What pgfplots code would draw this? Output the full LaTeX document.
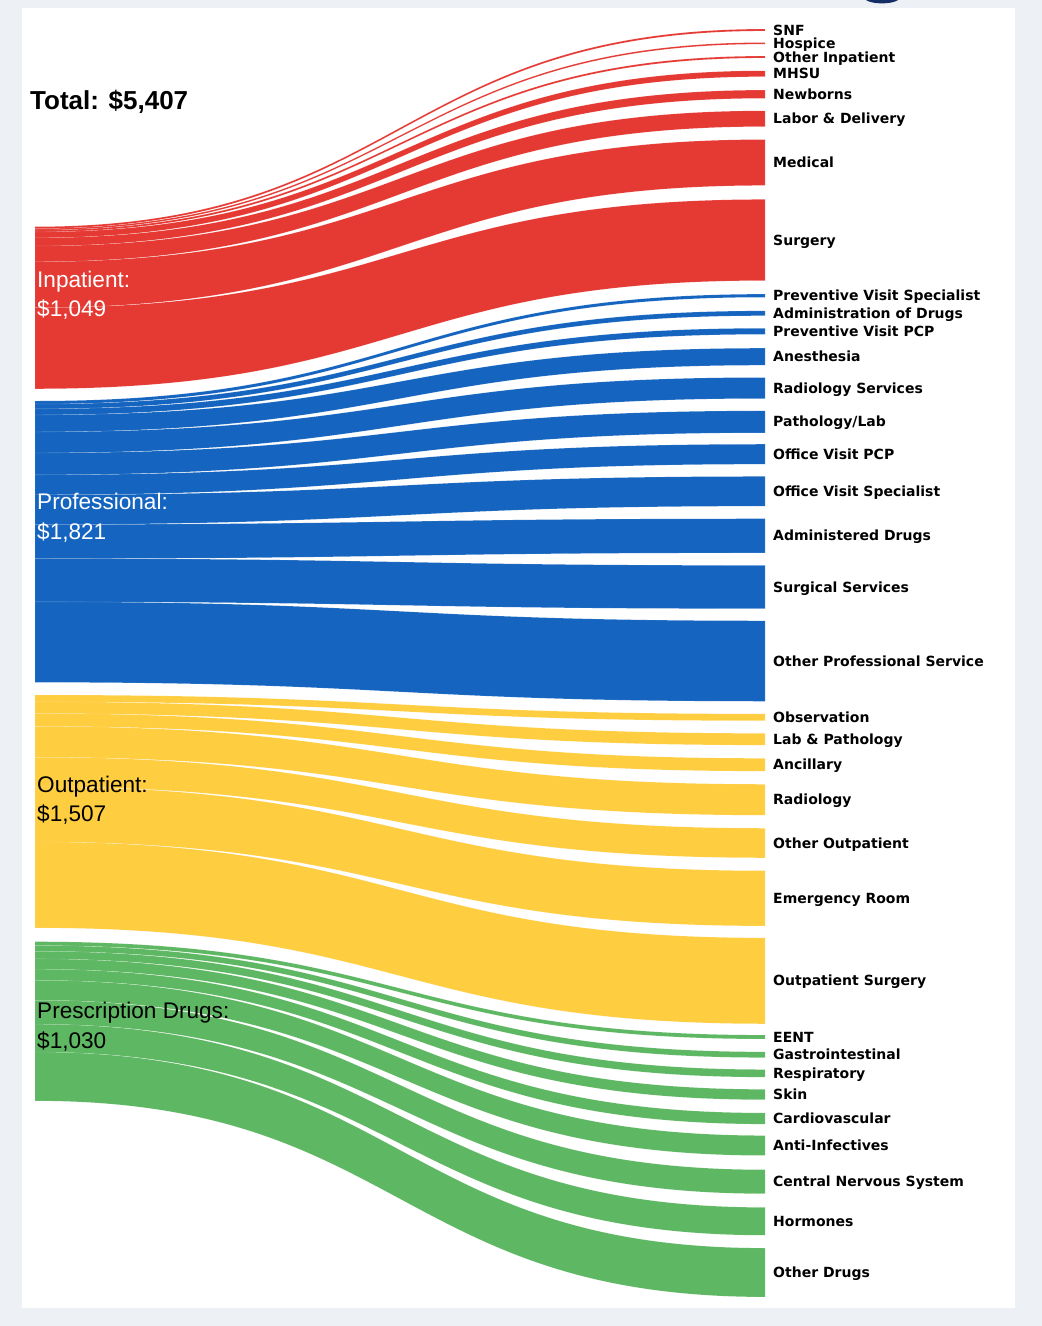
\documentclass[border=0pt]{standalone}
\usepackage{pgfplots}
\usepackage{pgfplotstable}
\pgfplotsset{compat=1.18}
\usepackage{fontspec}
\setmainfont{Liberation Sans}
\newfontfamily\djv{DejaVu Sans}
\definecolor{cRed}{RGB}{229,58,52}
\definecolor{cBlue}{RGB}{21,101,192}
\definecolor{cYellow}{RGB}{255,205,64}
\definecolor{cGreen}{RGB}{94,183,98}
\definecolor{cBg}{RGB}{237,241,245}
\definecolor{cNavy}{RGB}{20,45,100}

% grp: 0 Inpatient, 1 Professional, 2 Outpatient, 3 Prescription Drugs
% value: dollars; rc: vertical centre of the flow at the right end (px from top)
\pgfplotstableread[col sep=comma]{
grp,value,rc,name
0,12,30,SNF
0,10,43.3,Hospice
0,12,57,Other Inpatient
0,38,73.7,MHSU
0,53,94.2,Newborns
0,102,118.7,{Labor \& Delivery}
0,297,162.5,Medical
0,525,240,Surgery
1,20,295.7,Preventive Visit Specialist
1,31,313.3,Administration of Drugs
1,39,331.3,Preventive Visit PCP
1,110,356.7,Anesthesia
1,136,388,Radiology Services
1,142,421.8,Pathology/Lab
1,129,454.2,Office Visit PCP
1,192,491.3,Office Visit Specialist
1,221,535.8,Administered Drugs
1,280,587,Surgical Services
1,521,661,Other Professional Service
2,44,717.3,Observation
2,76,739.2,Lab \& Pathology
2,83,764.7,Ancillary
2,200,799.7,Radiology
2,191,843,Other Outpatient
2,357,898.3,Emergency Room
2,556,980.8,Outpatient Surgery
3,25,1037,EENT
3,37,1054.7,Gastrointestinal
3,49,1073.3,Respiratory
3,67,1094.5,Skin
3,72,1118.5,Cardiovascular
3,129,1145.5,Anti-Infectives
3,155,1181.7,Central Nervous System
3,180,1221.3,Hormones
3,316,1272.5,Other Drugs
}\flows

\begin{document}
\begin{tikzpicture}
\begin{axis}[width=1042pt, height=1326pt, scale only axis,
  xmin=0, xmax=1042, ymin=0, ymax=1326, y dir=reverse,
  hide axis, clip=false]
\fill[cBg] (axis cs:0,0) rectangle (axis cs:1042,1326);
\fill[white] (axis cs:22,8) rectangle (axis cs:1015,1308);
\fill[cNavy] (axis cs:866,0) .. controls (axis cs:872,4.5) and (axis cs:892,4.5) .. (axis cs:898,0) -- cycle;

\pgfplotstablegetrowsof{\flows}
\pgfmathtruncatemacro\nrows{\pgfplotsretval-1}
\def\kk{0.1545}
\def\lastgrp{-1}
\pgfplotsforeachungrouped \i in {0,...,\nrows}{%
  \pgfplotstablegetelem{\i}{grp}\of\flows \edef\g{\pgfplotsretval}%
  \pgfplotstablegetelem{\i}{value}\of\flows \edef\v{\pgfplotsretval}%
  \pgfplotstablegetelem{\i}{rc}\of\flows \edef\rc{\pgfplotsretval}%
  \pgfplotstablegetelem{\i}{name}\of\flows \let\nm\pgfplotsretval
  \ifnum\g=\lastgrp\relax\else
    \pgfmathsetmacro\cur{{226.7,401,695,941.7}[\g]}%
  \fi
  \let\lastgrp\g
  \ifcase\g\def\col{cRed}\or\def\col{cBlue}\or\def\col{cYellow}\or\def\col{cGreen}\fi
  \pgfmathsetmacro\ya{\cur}%
  \pgfmathsetmacro\yb{\cur+\kk*\v}%
  \pgfmathsetmacro\ra{\rc-\kk*\v/2}%
  \pgfmathsetmacro\rb{\rc+\kk*\v/2}%
  \pgfmathsetmacro\lb{\rc+5.1}%
  \let\cur\yb
  \edef\temp{\noexpand\fill[\col, draw=white, draw opacity=0.22, line width=0.3pt]
    (axis cs:35,\ya) .. controls (axis cs:400,\ya) and (axis cs:400,\ra) .. (axis cs:765,\ra)
    -- (axis cs:765,\rb) .. controls (axis cs:400,\rb) and (axis cs:400,\yb) .. (axis cs:35,\yb) -- cycle;
    \noexpand\node[anchor=base west, inner sep=0pt, font=\noexpand\djv\noexpand\bfseries\noexpand\fontsize{14}{14}\noexpand\selectfont]
    at (axis cs:773,\lb) {\unexpanded\expandafter{\nm}};}%
  \temp
}

\node[anchor=base west, inner sep=0pt, font=\bfseries\fontsize{26}{30}\selectfont] at (axis cs:30,109) {Total: \$5,407};

\node[anchor=base west, inner sep=0pt, text=white, font=\fontsize{22.6}{26}\selectfont] at (axis cs:37,287.3) {Inpatient:};
\node[anchor=base west, inner sep=0pt, text=white, font=\fontsize{22.6}{26}\selectfont] at (axis cs:37,316.7) {\$1,049};
\node[anchor=base west, inner sep=0pt, text=white, font=\fontsize{22.6}{26}\selectfont] at (axis cs:37,509.3) {Professional:};
\node[anchor=base west, inner sep=0pt, text=white, font=\fontsize{22.6}{26}\selectfont] at (axis cs:37,539) {\$1,821};
\node[anchor=base west, inner sep=0pt, text=black, font=\fontsize{22.6}{26}\selectfont] at (axis cs:37,792.3) {Outpatient:};
\node[anchor=base west, inner sep=0pt, text=black, font=\fontsize{22.6}{26}\selectfont] at (axis cs:37,821.7) {\$1,507};
\node[anchor=base west, inner sep=0pt, text=black, font=\fontsize{22.6}{26}\selectfont] at (axis cs:37,1018.3) {Prescription Drugs:};
\node[anchor=base west, inner sep=0pt, text=black, font=\fontsize{22.6}{26}\selectfont] at (axis cs:37,1048.3) {\$1,030};
\end{axis}
\end{tikzpicture}
\end{document}
